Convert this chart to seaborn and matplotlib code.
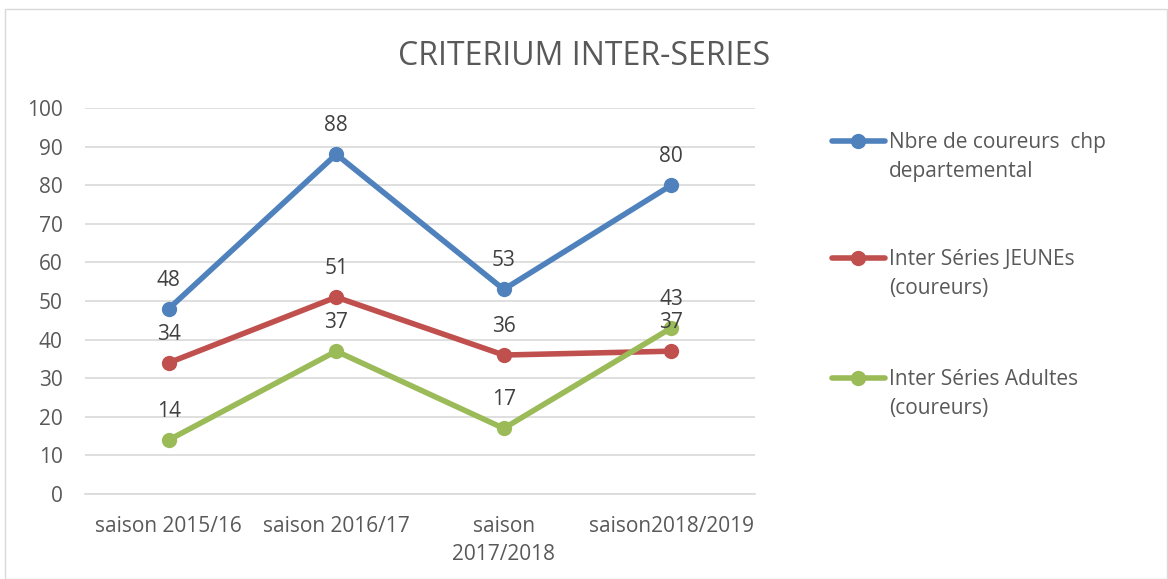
import matplotlib.pyplot as plt
import pandas as pd
import seaborn as sns
from matplotlib.lines import Line2D
from matplotlib.patches import Rectangle

# chart data
seasons = ['saison 2015/16', 'saison 2016/17', 'saison\n2017/2018', 'saison2018/2019']
series_names = ['Nbre de coureurs  chp\ndepartemental',
                'Inter Séries JEUNEs\n(coureurs)',
                'Inter Séries Adultes\n(coureurs)']
departemental = [48, 88, 53, 80]
jeunes = [34, 51, 36, 37]
adultes = [14, 37, 17, 43]
colors = ['#4F81BD', '#C0504D', '#9BBB59']

df = pd.DataFrame({
    'saison': seasons * 3,
    'valeur': departemental + jeunes + adultes,
    'serie': [n for n in series_names for _ in seasons],
})

sns.set_theme(style='white')
plt.rcParams['font.family'] = ['Open Sans', 'DejaVu Sans']
text_color = '#595959'

fig = plt.figure(figsize=(11.68, 5.79), dpi=100)
ax = fig.add_axes([0.0728, 0.1468, 0.5736, 0.6667])

sns.lineplot(data=df, x='saison', y='valeur', hue='serie', palette=colors,
             marker='o', markersize=11, markeredgewidth=0, linewidth=4,
             sort=False, legend=False, ax=ax)

# data labels above each point
for vals in [departemental, jeunes, adultes]:
    for i, v in enumerate(vals):
        ax.annotate(str(v), (i, v), xytext=(0, 13), textcoords='offset points',
                    ha='center', va='bottom', fontsize=15, color='#404040')

ax.set_xlim(-0.5, len(seasons) - 0.5)
ax.set_ylim(0, 100)
ax.set_yticks(range(0, 101, 10))
ax.yaxis.grid(True, color='#D9D9D9', linewidth=1.2)
for s in ax.spines.values():
    s.set_visible(False)
ax.spines['bottom'].set_visible(True)
ax.spines['bottom'].set_color('#D9D9D9')
ax.spines['bottom'].set_linewidth(1.2)
ax.tick_params(axis='both', length=0, labelsize=15, colors=text_color)
ax.tick_params(axis='x', pad=16)
ax.tick_params(axis='y', pad=16)
for lbl in ax.get_xticklabels():
    lbl.set_linespacing(1.45)
ax.set_xlabel('')
ax.set_ylabel('')

fig.text(0.5, 0.903, 'CRITERIUM INTER-SERIES', ha='center', va='center',
         fontsize=23, color=text_color)

# legend on the right, handle aligned with the first line of each entry
legend_y = [141, 258, 378]
for name, color, y in zip(series_names, colors, legend_y):
    yf = 1 - y / 579
    fig.add_artist(Line2D([832 / 1168, 885 / 1168], [yf, yf], color=color,
                          linewidth=4, solid_capstyle='round',
                          transform=fig.transFigure))
    fig.add_artist(Line2D([858 / 1168], [yf], color=color, marker='o',
                          markersize=11, markeredgewidth=0,
                          transform=fig.transFigure))
    fig.text(889 / 1168, 1 - (y - 9) / 579, name, ha='left', va='top',
             fontsize=15, color=text_color, linespacing=1.5)

fig.add_artist(Rectangle((0.004, 0.0), 0.995, 0.984, transform=fig.transFigure,
                         fill=False, edgecolor='#D9D9D9', linewidth=1))

fig.savefig('out.png', dpi=100)
